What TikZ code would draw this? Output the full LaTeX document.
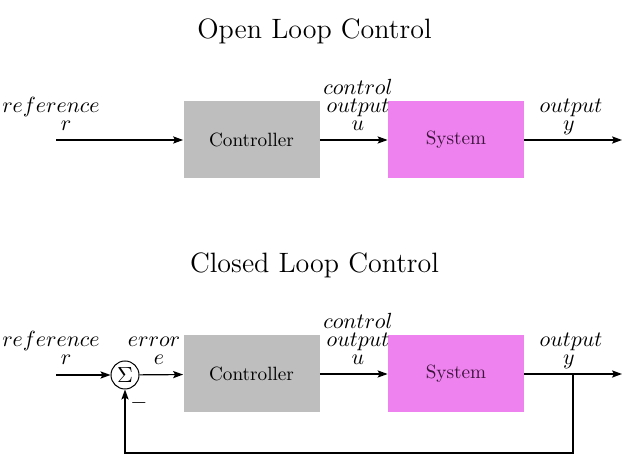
\documentclass[tikz,border=0pt]{standalone}
\usetikzlibrary{arrows.meta}
\definecolor{ctrlgray}{RGB}{190,190,190}
\definecolor{sysviolet}{RGB}{238,130,238}
\definecolor{systext}{RGB}{60,20,60}
\begin{document}
\begin{tikzpicture}[x=0.5pt,y=-0.5pt,
  blk/.style={minimum width=68pt,minimum height=38.5pt,inner sep=0pt,font=\fontsize{9.6}{11}\selectfont},
  ctrlblk/.style={blk,fill=ctrlgray},
  sysblk/.style={blk,fill=sysviolet,text=systext},
  lbl/.style={anchor=base,inner sep=0pt,font=\fontsize{10.7}{12}\selectfont},
  ttl/.style={anchor=base,inner sep=0pt,font=\fontsize{14}{16}\selectfont},
  sig/.style={line width=0.6pt,-{Stealth[length=5pt,width=3.6pt,inset=1pt]}},
  sumnode/.style={circle,draw,line width=0.5pt,minimum size=14pt,inner sep=0pt,font=\fontsize{10.5}{11}\selectfont}
]
\useasboundingbox (0,0) rectangle (643,474);

% ---------- Open loop ----------
\node[ttl] (t1) at (314.5,39) {Open Loop Control};
\node[ctrlblk] (ctl1) at (251.5,140) {Controller};
\node[sysblk] (sys1) at (456,140) {System};
\coordinate (in1) at (56,140);
\coordinate (out1) at (622,140);
\draw[sig] (in1) -- (ctl1);
\draw[sig] (ctl1) -- (sys1);
\draw[sig] (sys1) -- (out1);

\node[lbl] (ref1a) at (51,113) {$reference$};
\node[lbl] (ref1b) at (66,131) {$r$};
\node[lbl] (u1a) at (358,95) {$control$};
\node[lbl] (u1b) at (358,113) {$output$};
\node[lbl] (u1c) at (358,131) {$u$};
\node[lbl] (y1a) at (571,113) {$output$};
\node[lbl] (y1b) at (569,131) {$y$};

% ---------- Closed loop ----------
\node[ttl] (t2) at (314.5,273) {Closed Loop Control};
\node[ctrlblk] (ctl2) at (251.5,374) {Controller};
\node[sysblk] (sys2) at (456,374) {System};
\node[sumnode] (sum) at (125,375) {$\Sigma$};
\coordinate (in2) at (56,375);
\coordinate (out2) at (622,374);
\coordinate (br) at (573,374);
\coordinate (fb) at (573,453);
\draw[sig] (in2) -- (sum);
\draw[sig] (sum) -- (ctl2);
\draw[sig] (ctl2) -- (sys2);
\draw[sig] (sys2) -- (out2);
\draw[sig] (br) -- (fb) -| (sum.south);

\node[lbl] (ref2a) at (51,347) {$reference$};
\node[lbl] (ref2b) at (66,365) {$r$};
\node[lbl] (e2a) at (154,347) {$error$};
\node[lbl] (e2b) at (159,365) {$e$};
\node[lbl] (u2a) at (358,329) {$control$};
\node[lbl] (u2b) at (358,347) {$output$};
\node[lbl] (u2c) at (358,365) {$u$};
\node[lbl] (y2a) at (571,347) {$output$};
\node[lbl] (y2b) at (569,365) {$y$};
\node[lbl] (minus) at (139,409) {$-$};
\end{tikzpicture}
\end{document}
